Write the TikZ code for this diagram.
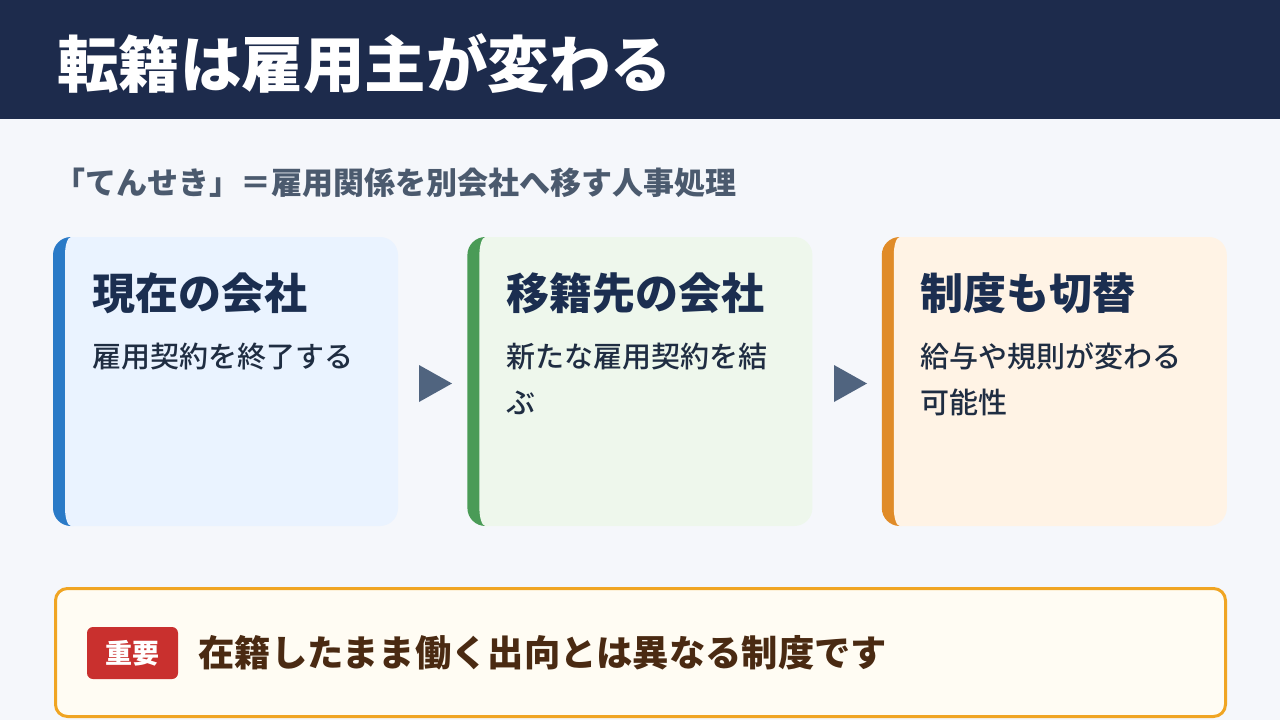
\documentclass[tikz,border=0pt]{standalone}
\usepackage{fontspec}
\setmainfont{Noto Sans CJK JP}[FontFace={mb}{n}{Font=Noto Sans CJK JP Medium}]
\usetikzlibrary{positioning}

\definecolor{pagebg}{HTML}{F5F7FB}
\definecolor{barnavy}{HTML}{1D2B4C}
\definecolor{headnavy}{HTML}{1B2E50}
\definecolor{bodynavy}{HTML}{1F2D42}
\definecolor{subgray}{HTML}{4B5A6E}
\definecolor{arrowgray}{HTML}{50647F}
\definecolor{bluefill}{HTML}{EAF3FF}
\definecolor{bluebar}{HTML}{2A7AC7}
\definecolor{greenfill}{HTML}{EEF7EC}
\definecolor{greenbar}{HTML}{4A9B57}
\definecolor{orangefill}{HTML}{FFF3E5}
\definecolor{orangebar}{HTML}{E08B28}
\definecolor{notefill}{HTML}{FFFCF3}
\definecolor{noteline}{HTML}{F0A523}
\definecolor{badgered}{HTML}{C9302E}
\definecolor{notebrown}{HTML}{4A2A12}

\begin{document}
\begin{tikzpicture}[x=1pt, y=-1pt,
    card/.style 2 args={rectangle, rounded corners=18pt, fill=#1, inner sep=0pt,
        minimum width=345pt, minimum height=289pt,
        path picture={
            \fill[#2, sharp corners] ([xshift=-1pt]path picture bounding box.north west)
                rectangle ([xshift=18pt]path picture bounding box.south west);
            \fill[#1, sharp corners]
                ([xshift=12pt, yshift=-18pt]path picture bounding box.north west)
                arc[start angle=180, end angle=90, x radius=6pt, y radius=18pt]
                -- ([xshift=20pt]path picture bounding box.north west)
                -- ([xshift=20pt]path picture bounding box.south west)
                -- ([xshift=18pt]path picture bounding box.south west)
                arc[start angle=270, end angle=180, x radius=6pt, y radius=18pt]
                -- cycle;}},
    cardhead/.style={anchor=base west, inner sep=0pt, text=headnavy,
        font=\bfseries\fontsize{43}{48}\selectfont},
    cardbody/.style={anchor=base west, inner sep=0pt, text=bodynavy,
        font=\fontseries{mb}\selectfont\fontsize{29}{46}\selectfont}]

    % 背景とタイトル帯
    \fill[pagebg] (0,0) rectangle (1280,720);
    \fill[barnavy] (0,0) rectangle (1280,119);
    \node[anchor=base west, inner sep=0pt, text=white,
        font=\bfseries\fontsize{61.5}{66}\selectfont] (title) at (57,87) {転籍は雇用主が変わる};

    % 説明文
    \node[anchor=base west, inner sep=0pt, text=subgray,
        font=\bfseries\fontsize{31}{34}\selectfont] (subtitle) at (54,194)
        {「てんせき」＝雇用関係を別会社へ移す人事処理};

    % 三つのカード
    \node[card={bluefill}{bluebar}] (now) at (225.5,381.5) {};
    \node[card={greenfill}{greenbar}, right=69pt of now] (next) {};
    \node[card={orangefill}{orangebar}, right=69pt of next] (rule) {};

    \node[cardhead] (nowhead) at ([xshift=39pt, yshift=-73pt]now.north west) {現在の会社};
    \node[cardbody] (nowbody) at ([xshift=39pt, yshift=-131pt]now.north west) {雇用契約を終了する};
    \node[cardhead] (nexthead) at ([xshift=39pt, yshift=-73pt]next.north west) {移籍先の会社};
    \node[cardbody] (nextbody) at ([xshift=39pt, yshift=-131pt]next.north west) {新たな雇用契約を結};
    \node[cardbody] (nextbody2) at ([yshift=-46pt]nextbody.base west) {ぶ};
    \node[cardhead] (rulehead) at ([xshift=39pt, yshift=-73pt]rule.north west) {制度も切替};
    \node[cardbody] (rulebody) at ([xshift=39pt, yshift=-131pt]rule.north west) {給与や規則が変わる};
    \node[cardbody] (rulebody2) at ([yshift=-46pt]rulebody.base west) {可能性};

    % 矢印（三角）
    \fill[arrowgray] (419,365) -- (452,383.5) -- (419,402) -- cycle;
    \fill[arrowgray] (834,365) -- (867,383.5) -- (834,402) -- cycle;

    % 注意書き
    \draw[noteline, line width=3pt, fill=notefill, rounded corners=12pt] (55.5,588.5) rectangle (1225.5,716.5);
    \node[fill=badgered, rounded corners=6pt, text=white, inner sep=0pt,
        minimum width=91pt, minimum height=52pt,
        font=\bfseries\fontsize{27}{30}\selectfont] (badge) at (132.5,653) {重要};
    \node[anchor=west, inner sep=0pt, text=notebrown,
        font=\bfseries\fontsize{36.3}{40}\selectfont, right=20pt of badge] (note)
        {在籍したまま働く出向とは異なる制度です};
\end{tikzpicture}
\end{document}
